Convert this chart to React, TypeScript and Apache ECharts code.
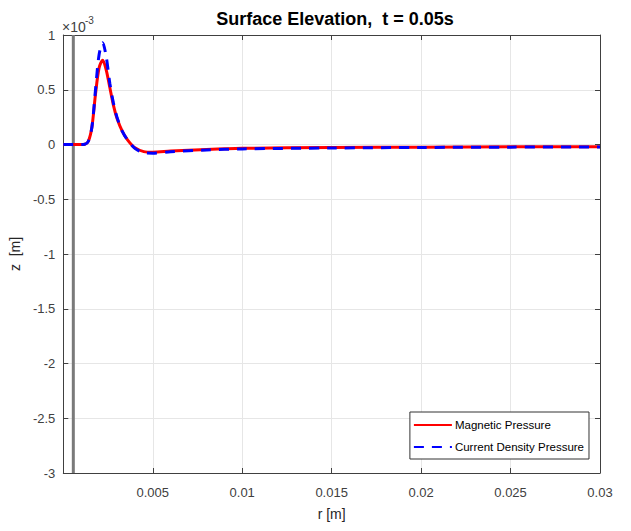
import React, { useEffect, useRef } from "react";
import * as echarts from "echarts";

const rValues = [0, 0.0005, 0.001, 0.0012, 0.0014, 0.0016, 0.0018, 0.002, 0.0022, 0.0024, 0.0026, 0.0028, 0.003, 0.0033, 0.0036, 0.004, 0.0045, 0.005, 0.006, 0.008, 0.01, 0.015, 0.02, 0.025, 0.03];
const magneticPressure = [0, 0, 0, 0.002, 0.03, 0.16, 0.46, 0.70, 0.77, 0.68, 0.52, 0.36, 0.24, 0.12, 0.04, -0.03, -0.065, -0.07, -0.06, -0.045, -0.035, -0.028, -0.024, -0.021, -0.02];
const currentDensityPressure = [0, 0, 0, 0.002, 0.03, 0.16, 0.50, 0.82, 0.93, 0.80, 0.56, 0.38, 0.25, 0.12, 0.04, -0.035, -0.075, -0.08, -0.066, -0.05, -0.04, -0.032, -0.027, -0.024, -0.022];
const seriesNames = ["Magnetic Pressure", "Current Density Pressure"];
const markerR = 0.00056;
const yRange = [-3, 1];
const titleText = "Surface Elevation,  t = 0.05s";

const FONT = "Liberation Sans, Arial, sans-serif";

export default function App() {
  const ref = useRef<HTMLDivElement>(null);
  useEffect(() => {
    if (!ref.current) return;
    const chart = echarts.init(ref.current, undefined, { renderer: "svg" });
    const axisColor = "#404040";
    const xCommon = {
      type: "value" as const,
      min: 0,
      max: 0.03,
      interval: 0.005,
      axisLine: { show: true, onZero: false, lineStyle: { color: axisColor, width: 1 } },
      axisTick: { show: true, inside: true, length: 5, lineStyle: { color: axisColor } },
    };
    const yCommon = {
      type: "value" as const,
      min: yRange[0],
      max: yRange[1],
      interval: 0.5,
      axisLine: { show: true, onZero: false, lineStyle: { color: axisColor, width: 1 } },
      axisTick: { show: true, inside: true, length: 5, lineStyle: { color: axisColor } },
    };
    chart.setOption({
      animation: false,
      backgroundColor: "#ffffff",
      title: {
        text: titleText,
        left: 330,
        textAlign: "center",
        top: 5,
        textStyle: { fontFamily: FONT, fontSize: 18, fontWeight: "bold", color: "#000" },
      },
      grid: { left: 60, right: 31, top: 35, bottom: 58, containLabel: false },
      legend: {
        right: 42,
        top: 412,
        orient: "vertical",
        backgroundColor: "#fff",
        borderColor: "#333",
        borderWidth: 1,
        borderRadius: 0,
        padding: [7, 5, 6, 3],
        itemGap: 10,
        itemWidth: 38,
        itemHeight: 12,
        itemStyle: { opacity: 0 },
        textStyle: { fontFamily: FONT, fontSize: 11.5, color: "#000", padding: [0, 0, 0, -2] },
        data: seriesNames,
      },
      xAxis: [
        {
          ...xCommon,
          position: "bottom",
          name: "r [m]",
          nameLocation: "middle",
          nameGap: 34,
          nameTextStyle: { fontFamily: FONT, fontSize: 14, color: "#262626" },
          splitLine: { show: true, lineStyle: { color: "#e6e6e6", width: 1 } },
          axisLabel: {
            showMinLabel: false,
            fontFamily: FONT,
            fontSize: 13,
            color: "#404040",
            margin: 13,
            formatter: (v: number) => String(+v.toFixed(4)),
          },
        },
        {
          ...xCommon,
          position: "top",
          splitLine: { show: false },
          axisLabel: { show: false },
        },
      ],
      yAxis: [
        {
          ...yCommon,
          position: "left",
          name: "z  [m]",
          nameLocation: "middle",
          nameGap: 33,
          nameRotate: 90,
          nameTextStyle: { fontFamily: FONT, fontSize: 14, color: "#262626" },
          splitLine: { show: true, lineStyle: { color: "#e6e6e6", width: 1 } },
          axisLabel: {
            fontFamily: FONT,
            fontSize: 13,
            color: "#404040",
            margin: 8,
            formatter: (v: number) => String(+v.toFixed(2)),
          },
        },
        {
          ...yCommon,
          position: "right",
          splitLine: { show: false },
          axisLabel: { show: false },
        },
      ],
      graphic: [
        {
          type: "text",
          left: 62,
          top: 20,
          style: { text: "×10", fontSize: 14, fontFamily: FONT, fill: "#404040" },
        },
        {
          type: "text",
          left: 85,
          top: 15,
          style: { text: "-3", fontSize: 10, fontFamily: FONT, fill: "#404040" },
        },
      ],
      series: [
        {
          name: "marker",
          type: "line",
          data: [[markerR, yRange[0]], [markerR, yRange[1]]],
          silent: true,
          showSymbol: false,
          symbol: "none",
          lineStyle: { color: "#7a7a7a", width: 3 },
          z: 2,
        },
        {
          name: seriesNames[0],
          type: "line",
          data: rValues.map((r, i) => [r, magneticPressure[i]]),
          showSymbol: false,
          symbol: "none",
          smooth: 0.3,
          lineStyle: { color: "#ff0000", width: 3 },
          itemStyle: { color: "#ff0000" },
          z: 3,
        },
        {
          name: seriesNames[1],
          type: "line",
          data: rValues.map((r, i) => [r, currentDensityPressure[i]]),
          showSymbol: false,
          symbol: "none",
          smooth: 0.3,
          lineStyle: { color: "#0000ff", width: 3, type: [10, 8] },
          itemStyle: { color: "#0000ff" },
          z: 4,
        },
      ],
    });
    return () => chart.dispose();
  }, []);
  return (
    <div
      ref={ref}
      style={{ position: "fixed", left: 0, top: 0, width: 631, height: 531 }}
    />
  );
}
